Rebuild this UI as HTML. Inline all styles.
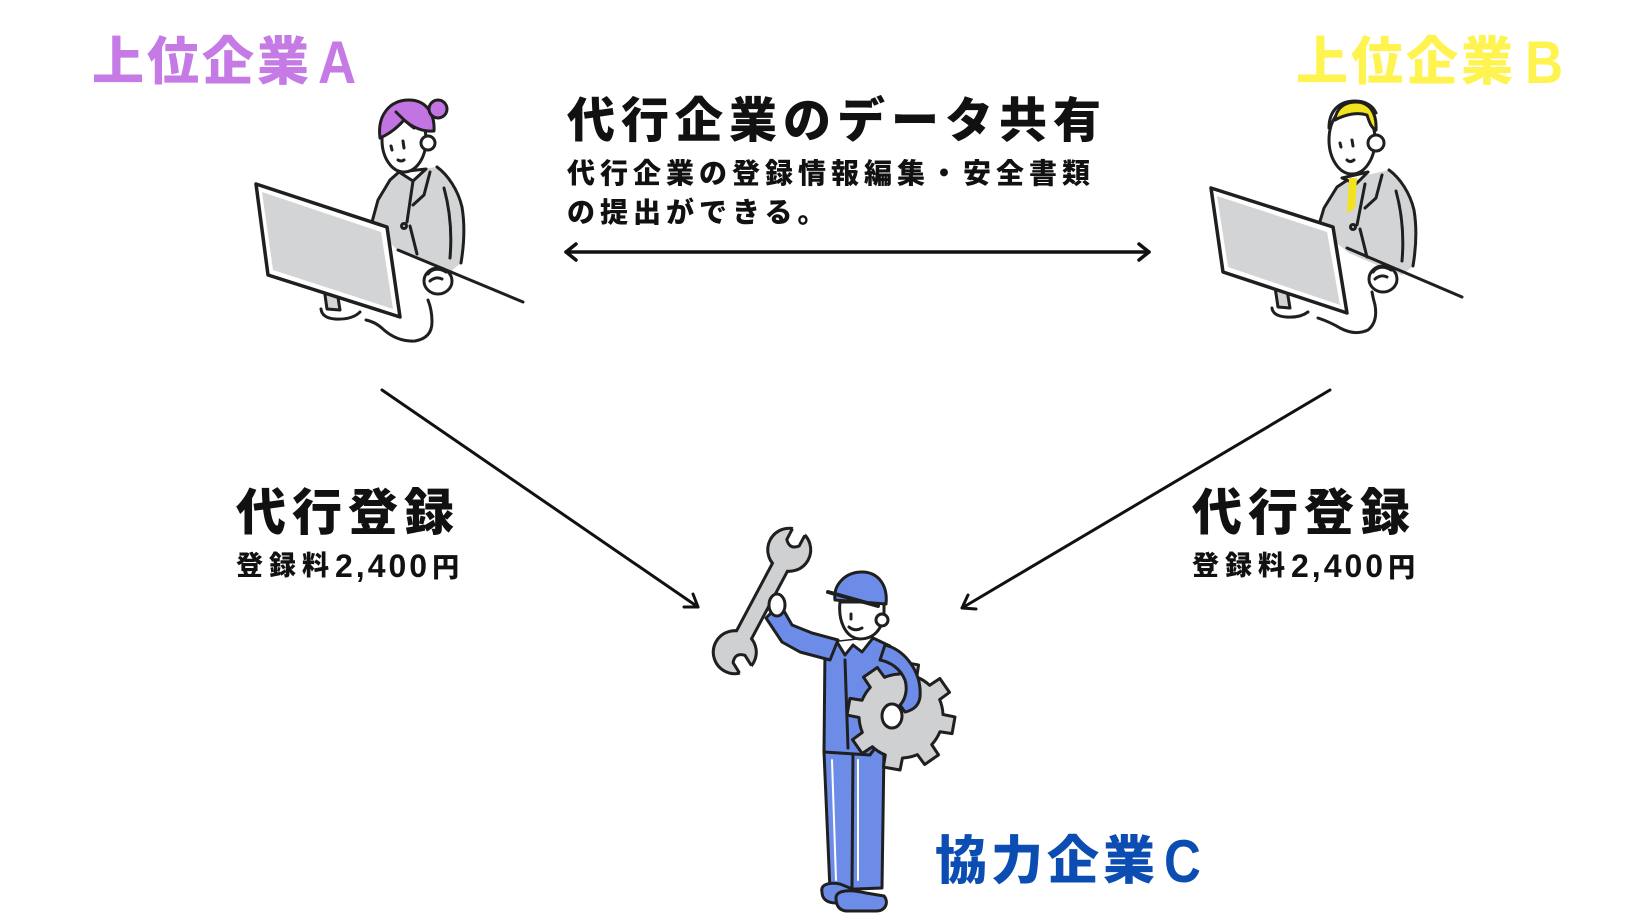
<!DOCTYPE html>
<html>
<head>
<meta charset="utf-8">
<style>
html,body{margin:0;padding:0;background:#fff;}
svg{display:block;}
.t{font-family:"Liberation Sans","Noto Sans CJK JP",sans-serif;font-weight:900;}
.l{font-family:"Liberation Sans","DejaVu Sans",sans-serif;font-weight:700;}
</style>
</head>
<body>
<svg width="1640" height="924" viewBox="0 0 1640 924" xmlns="http://www.w3.org/2000/svg">
<rect width="1640" height="924" fill="#fff"/>

<!-- ===== Labels ===== -->
<text class="t" x="92" y="80" font-size="52" fill="#c57ae6" style="letter-spacing:3px">上位企業</text>
<text class="l" font-size="60" fill="#c57ae6" transform="translate(318,83) scale(0.88,1)">A</text>
<text class="t" x="1296" y="80" font-size="52" fill="#fff34f" style="letter-spacing:3px">上位企業</text>
<text class="l" font-size="60" fill="#fff34f" transform="translate(1525,83) scale(0.88,1)">B</text>
<text class="t" x="935" y="879" font-size="52" fill="#0b4db2" style="letter-spacing:4px">協力企業</text>
<text class="l" font-size="60" fill="#0b4db2" transform="translate(1164,882) scale(0.85,1)">C</text>

<text class="t" x="567" y="137" font-size="48" fill="#111" style="letter-spacing:6px">代行企業のデータ共有</text>
<text class="t" x="567" y="183" font-size="28" fill="#111" style="letter-spacing:5px">代行企業の登録情報編集・安全書類</text>
<text class="t" x="567" y="222" font-size="28" fill="#111" style="letter-spacing:5px">の提出ができる。</text>

<text class="t" x="236" y="530" font-size="50" fill="#111" style="letter-spacing:6px">代行登録</text>
<text class="t" x="236" y="575" font-size="27" fill="#111" style="letter-spacing:6px">登録料<tspan class="l" font-size="32" y="577" style="letter-spacing:3px">2,400</tspan><tspan dx="2">円</tspan></text>
<text class="t" x="1192" y="530" font-size="50" fill="#111" style="letter-spacing:6px">代行登録</text>
<text class="t" x="1192" y="575" font-size="27" fill="#111" style="letter-spacing:6px">登録料<tspan class="l" font-size="32" y="577" style="letter-spacing:3px">2,400</tspan><tspan dx="2">円</tspan></text>

<!-- ===== Arrows ===== -->
<g stroke="#111" stroke-width="3.5" fill="none" stroke-linecap="round" stroke-linejoin="round">
  <line x1="566" y1="252" x2="1149" y2="252"/>
  <polyline points="576,244 566,252 576,260"/>
  <polyline points="1139,244 1149,252 1139,260"/>
</g>
<g stroke="#111" stroke-width="3" fill="none" stroke-linecap="round" stroke-linejoin="round">
  <line x1="382" y1="390" x2="698" y2="607"/>
  <polyline points="693,594 698,607 684,607"/>
  <line x1="1330" y1="390" x2="962" y2="608"/>
  <polyline points="968,595 962,608 976,609"/>
</g>

<!-- ===== Person A (woman) ===== -->
<g stroke="#1f1f1f" stroke-width="3" stroke-linecap="round" stroke-linejoin="round" fill="none">
  <!-- body -->
  <path d="M372,222 L378,200 L390,180 L399,172 L437,167 L453,183 L462,207 L464,237 L461,263 L450,272 L427,263 L397,250 Z" fill="#d3d4d6" stroke="none"/>
  <path d="M372,222 L378,200 L390,180 L399,172"/>
  <path d="M437,167 C448,175 458,190 462,207 C465,225 464,245 461,263"/>
  <polygon points="399,172 413,181 426,169" fill="#fff"/>
  <path d="M413,181 L407,222"/>
  <path d="M430,172 L424,195 L413,205"/>
  <path d="M410,226 L417,254"/>
  <circle cx="404" cy="226" r="2.5"/>
  <path d="M444,188 C450,210 452,235 450,258"/>
  <!-- desk line -->
  <line x1="398" y1="250" x2="523" y2="302"/>
  <!-- head -->
  <ellipse cx="404" cy="140" rx="22" ry="32" fill="#fff"/>
  <path d="M380,138 C377,115 390,100 409,100 C425,100 435,112 434,131 C424,132 413,128 404,120 C398,127 389,134 380,138 Z" fill="#c274e3"/>
  <path d="M396,112 C402,118 408,124 414,128"/>
  <circle cx="438" cy="109" r="9" fill="#c274e3"/>
  <circle cx="428" cy="143" r="7" fill="#fff"/>
  <line x1="391" y1="146" x2="392" y2="150"/>
  <line x1="403" y1="141" x2="404" y2="148"/>
  <path d="M398,160 Q401,162 404,160"/>
  <!-- hand -->
  <ellipse cx="438" cy="281" rx="14" ry="13" fill="#fff"/>
  <path d="M428,274 C432,268 440,268 446,272"/>
  <path d="M430,281 Q436,276 442,279"/>
  <!-- stand & cable -->
  <polygon points="324,288 337,291 340,310 327,309" fill="#d3d4d6"/>
  <path d="M321,309 Q322,318 335,319 Q352,320 360,312"/>
  <path d="M366,320 Q376,322 384,330 Q398,342 415,341 Q432,338 432,322 Q432,310 428,300"/>
  <!-- monitor -->
  <polygon points="256,184 387,227 400,317 268,275" fill="#fff" stroke-width="3.5"/>
  <polygon points="262,192 381,232 393,309 273,270" fill="#d3d4d6" stroke="none"/>
</g>

<!-- ===== Person B (man) ===== -->
<g stroke="#1f1f1f" stroke-width="3" stroke-linecap="round" stroke-linejoin="round" fill="none">
  <g transform="translate(952,3)">
    <path d="M366,225 L372,205 L385,184 L397,176 L437,167 L453,183 L462,207 L464,237 L461,263 L450,272 L427,263 L397,250 Z" fill="#d3d4d6" stroke="none"/>
    <path d="M366,225 L372,205 L385,184 L397,176"/>
    <path d="M437,167 C448,175 458,190 462,207 C465,225 464,245 461,263"/>
    <path d="M413,181 L405,222"/>
    <path d="M430,172 L424,195 L413,205"/>
    <path d="M408,226 L415,254"/>
    <circle cx="401" cy="224" r="2.5"/>
    <path d="M444,188 C450,210 452,235 450,258"/>
  </g>
  <line x1="1347" y1="248" x2="1462" y2="297"/>
  <!-- head -->
  <polygon points="1342,178 1356,184 1368,172" fill="#fff"/>
  <polygon points="1349,178 1357,178 1355,208 1347,213" fill="#f3e21e" stroke="none"/>
  <ellipse cx="1352" cy="140" rx="23" ry="34" fill="#fff"/>
  <path d="M1335,120 C1336,108 1345,102 1356,102 C1368,102 1377,111 1376,130 C1371,128 1369,121 1367,115 C1358,112 1346,114 1335,120 Z" fill="#f3e21e"/>
  <path d="M1329,128 C1329,110 1340,101 1355,101 C1366,101 1373,106 1376,113"/>
  <circle cx="1376" cy="143" r="8" fill="#fff"/>
  <line x1="1340" y1="143" x2="1341" y2="147"/>
  <line x1="1352" y1="140" x2="1353" y2="146"/>
  <path d="M1347,160 Q1350,163 1354,160"/>
  <!-- hand -->
  <ellipse cx="1383" cy="279" rx="14" ry="13" fill="#fff"/>
  <path d="M1373,272 C1377,266 1385,266 1391,270"/>
  <path d="M1375,279 Q1381,274 1387,277"/>
  <!-- stand & cable -->
  <polygon points="1275,287 1287,290 1290,308 1278,307" fill="#d3d4d6"/>
  <path d="M1272,308 Q1273,316 1286,317 Q1300,318 1308,312"/>
  <path d="M1318,318 Q1330,322 1340,328 Q1355,336 1368,330 Q1378,322 1375,305 Q1373,298 1372,292"/>
  <!-- monitor -->
  <polygon points="1211,188 1333,227 1347,313 1223,272" fill="#fff" stroke-width="3.5"/>
  <polygon points="1217,196 1327,232 1340,305 1228,267" fill="#d3d4d6" stroke="none"/>
</g>

<!-- ===== Worker C ===== -->
<g stroke="#1f1f1f" stroke-width="3" stroke-linecap="round" stroke-linejoin="round">
  <!-- legs -->
  <polygon points="824,752 884,748 882,888 830,890" fill="#6d8ce8"/>
  <line x1="853" y1="752" x2="852" y2="888" fill="none"/>
  <line x1="832" y1="760" x2="836" y2="880" stroke="#fff" stroke-width="2"/>
  <line x1="858" y1="760" x2="858" y2="880" stroke="#fff" stroke-width="2"/>
  <!-- shoes -->
  <path d="M822,892 C820,884 830,882 840,884 L850,888 C852,896 846,903 836,903 C826,903 822,898 822,892 Z" fill="#6d8ce8"/>
  <path d="M836,898 C836,890 850,889 866,893 L884,896 C889,902 886,911 876,911 L846,911 C838,910 836,904 836,898 Z" fill="#6d8ce8"/>
  <!-- torso -->
  <polygon points="825,648 837,642 873,638 890,646 905,665 895,720 870,755 824,752" fill="#6d8ce8"/>
  <line x1="845" y1="660" x2="848" y2="748" fill="none"/>
  <polyline points="837,642 845,655 853,645 862,652 873,638" fill="#fff"/>
  <!-- left arm raised -->
  <polygon points="766,618 780,604 792,625 812,633 838,640 830,660 800,652 782,642" fill="#6d8ce8"/>
  <!-- wrench -->
  <g transform="translate(762,601) rotate(28)">
    <g stroke-width="6">
      <rect x="-7" y="-50" width="14" height="100"/>
      <circle cx="0" cy="-58" r="20"/>
      <circle cx="0" cy="58" r="20"/>
    </g>
    <g fill="#cfd0d2" stroke="none">
      <rect x="-7" y="-50" width="14" height="100"/>
      <circle cx="0" cy="-58" r="20"/>
      <circle cx="0" cy="58" r="20"/>
    </g>
    <path d="M-7,-82 L-7,-66 Q0,-58 7,-66 L7,-82 Z" fill="#fff" stroke="none"/>
    <path d="M-7,-77 L-7,-66 Q0,-58 7,-66 L7,-77" fill="none"/>
    <g transform="translate(0,58) rotate(120)">
      <path d="M-7,-24 L-7,-8 Q0,0 7,-8 L7,-24 Z" fill="#fff" stroke="none"/>
      <path d="M-7,-19 L-7,-8 Q0,0 7,-8 L7,-19" fill="none"/>
    </g>
  </g>
  <ellipse cx="777" cy="605" rx="8" ry="11" fill="#fff"/>
  <!-- head -->
  <path d="M840,602 C838,620 845,638 860,639 C873,639 883,630 884,612 L884,602 Z" fill="#fff"/>
  <circle cx="882" cy="620" r="6" fill="#fff"/>
  <path d="M835,600 C833,585 845,572 862,572 C878,572 888,585 886,604 Z" fill="#6d8ce8"/>
  <line x1="828" y1="592" x2="878" y2="606" stroke-width="4"/>
  <line x1="851" y1="614" x2="851" y2="619"/>
  <path d="M849,627 Q855,632 862,628" fill="none"/>
  <!-- gear -->
  <path d="M942.97,714.53 L954.99,716.94 L952.06,733.58 L939.94,731.73 A42,42 0 0 1 931.72,744.64 L938.51,754.84 L924.67,764.54 L917.41,754.66 A42 42 0 0 1 902.47,757.97 L900.06,769.99 L883.42,767.06 L885.27,754.94 A42 42 0 0 1 872.36,746.72 L862.16,753.51 L852.46,739.67 L862.34,732.41 A42 42 0 0 1 859.03,717.47 L847.01,715.06 L849.94,698.42 L862.06,700.27 A42 42 0 0 1 870.28,687.36 L863.49,677.16 L877.33,667.46 L884.59,677.34 A42 42 0 0 1 899.53,674.03 L901.94,662.01 L918.58,664.94 L916.73,677.06 A42 42 0 0 1 929.64,685.28 L939.84,678.49 L949.54,692.33 L939.66,699.59 A42 42 0 0 1 942.97,714.53 Z" fill="#cfd0d2"/>
  <!-- right arm -->
  <path d="M885,645 C905,650 922,672 920,697 C919,705 914,710 905,712 L900,705 C905,700 908,690 905,680 C900,668 890,662 880,660 Z" fill="#6d8ce8"/>
  <ellipse cx="892" cy="716" rx="10" ry="12" fill="#fff"/>
</g>
</svg>
</body>
</html>
